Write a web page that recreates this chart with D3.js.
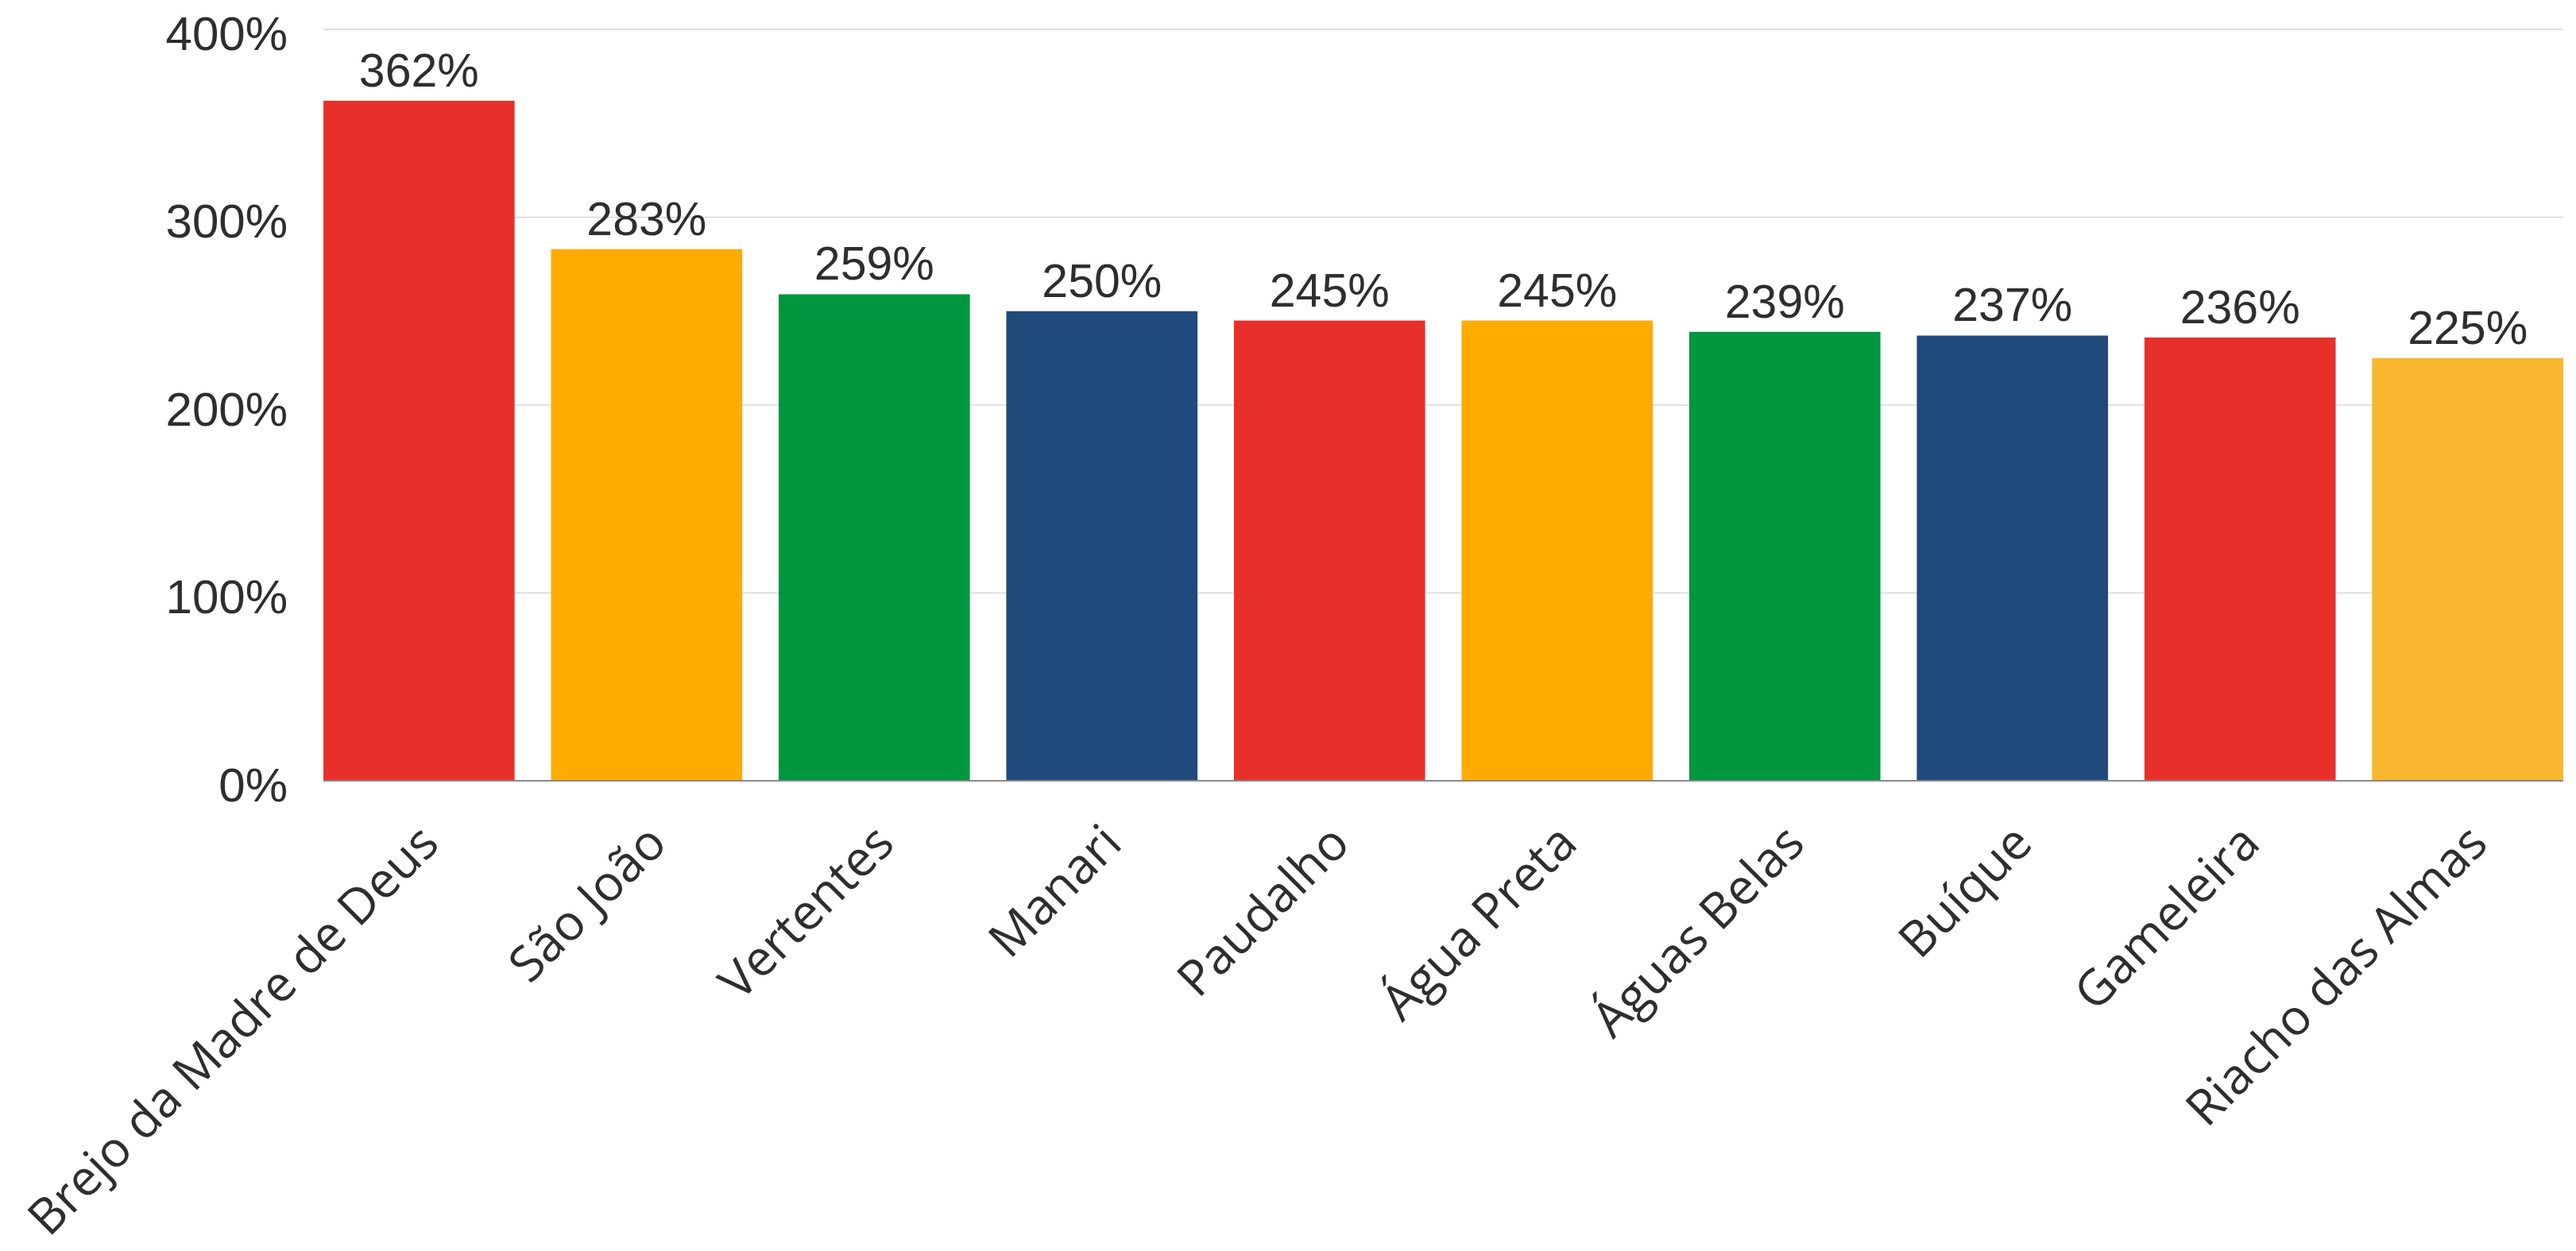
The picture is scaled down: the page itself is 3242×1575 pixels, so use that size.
<!DOCTYPE html>
<html>
<head>
<meta charset="utf-8">
<script src="https://cdn.jsdelivr.net/npm/d3@7"></script>
<style>
  html, body { margin: 0; padding: 0; background: #ffffff; }
  svg { display: block; }
</style>
</head>
<body>
<svg id="chart" width="3242" height="1575"></svg>
<script>
const categories = ["Brejo da Madre de Deus", "São João", "Vertentes", "Manari", "Paudalho", "Água Preta", "Águas Belas", "Buíque", "Gameleira", "Riacho das Almas"];
const values = [362, 283, 259, 250, 245, 245, 239, 237, 236, 225];
const barColors = ["#E8302B", "#FFAB00", "#00963F", "#204A7B", "#E8302B", "#FFAB00", "#00963F", "#204A7B", "#E8302B", "#F9B62F"];
const yTicks = [0, 100, 200, 300, 400];

const W = 3242, H = 1575;
const margin = { left: 407, right: 16, top: 37, bottom: 592 };
const svg = d3.select("#chart");

const x = d3.scaleBand()
  .domain(categories)
  .range([margin.left, W - margin.right])
  .paddingInner(0.16)
  .paddingOuter(0);

const y = d3.scaleLinear()
  .domain([0, 400])
  .range([H - margin.bottom, margin.top]);

const textColor = "#2e2e2e";

// gridlines
svg.append("g")
  .selectAll("line")
  .data(yTicks.filter(d => d !== 0))
  .join("line")
  .attr("x1", margin.left)
  .attr("x2", W - margin.right)
  .attr("y1", d => y(d))
  .attr("y2", d => y(d))
  .attr("stroke", "#d6d6d6")
  .attr("stroke-width", 1.5);

// y axis labels
const yAxis = d3.axisLeft(y).tickValues(yTicks).tickSize(0).tickPadding(0).tickFormat(d => d + "%");
const gy = svg.append("g")
  .attr("transform", `translate(362,0)`)
  .call(yAxis);
gy.select(".domain").remove();
gy.selectAll("text")
  .attr("x", 0)
  .attr("dy", "0.42em")
  .attr("fill", textColor)
  .style("font-family", "'Liberation Sans', Arial, sans-serif")
  .style("font-size", "60px");

// bars
svg.append("g")
  .selectAll("rect")
  .data(categories)
  .join("rect")
  .attr("x", d => x(d))
  .attr("width", x.bandwidth())
  .attr("y", (d, i) => y(values[i]))
  .attr("height", (d, i) => y(0) - y(values[i]))
  .attr("fill", (d, i) => barColors[i]);

// baseline
svg.append("line")
  .attr("x1", margin.left)
  .attr("x2", W - margin.right)
  .attr("y1", y(0))
  .attr("y2", y(0))
  .attr("stroke", "#8a8a8a")
  .attr("stroke-width", 2);

// value labels
svg.append("g")
  .selectAll("text")
  .data(categories)
  .join("text")
  .attr("x", d => x(d) + x.bandwidth() / 2)
  .attr("y", (d, i) => y(values[i]) - 18)
  .attr("text-anchor", "middle")
  .attr("fill", textColor)
  .style("font-family", "'Liberation Sans', Arial, sans-serif")
  .style("font-size", "59px")
  .text((d, i) => values[i] + "%");

// x labels (rotated)
const xAxis = d3.axisBottom(x).tickSize(0).tickPadding(0);
const gx = svg.append("g")
  .attr("transform", `translate(0,${y(0)})`)
  .call(xAxis);
gx.select(".domain").remove();
gx.selectAll(".tick text")
  .attr("x", 0)
  .attr("y", 0)
  .attr("dy", 0)
  .attr("text-anchor", "end")
  .attr("transform", "translate(28,82) rotate(-45)")
  .attr("fill", textColor)
  .style("font-family", "'Open Sans', sans-serif")
  .style("font-size", "62px");
</script>
</body>
</html>
